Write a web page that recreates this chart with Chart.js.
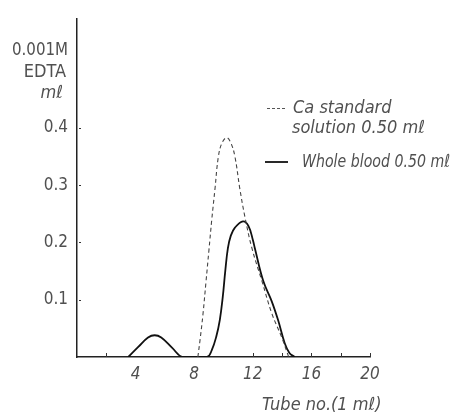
<!DOCTYPE html>
<html>
<head>
<meta charset="utf-8">
<script src="https://cdn.jsdelivr.net/npm/chart.js@4.4.1/dist/chart.umd.min.js"></script>
<style>
  html, body { margin: 0; padding: 0; background: #fff; }
  #wrap { width: 455px; height: 418px; }
</style>
</head>
<body>
<div id="wrap"><canvas id="c" width="455" height="418"></canvas></div>
<script>
// ---- data ----
const caTube = [8.25, 8.40, 8.60, 8.80, 9.00, 9.20, 9.42, 9.65, 9.90, 10.22, 10.50, 10.78, 11.12, 11.46, 11.94, 12.62, 13.30, 13.98, 14.45];
const caEdta = [0, 0.030, 0.075, 0.130, 0.185, 0.240, 0.294, 0.350, 0.374, 0.383, 0.374, 0.350, 0.293, 0.245, 0.190, 0.133, 0.076, 0.034, 0];

const wbTube = [3.5, 4.2, 4.85, 5.3, 5.75, 6.5, 7.2, 8.88, 9.2, 9.5, 9.75, 9.95, 10.12, 10.3, 10.5, 10.78, 11.33, 11.7, 12.0, 12.14, 12.71, 13.28, 13.73, 14.18, 14.5, 14.86];
const wbEdta = [0, 0.018, 0.034, 0.038, 0.034, 0.016, 0, 0, 0.012, 0.035, 0.065, 0.105, 0.150, 0.190, 0.212, 0.226, 0.237, 0.229, 0.205, 0.190, 0.133, 0.098, 0.064, 0.024, 0.007, 0];

const yTickValues = [0.1, 0.2, 0.3, 0.4];
const yTickLabels = ['0.1', '0.2', '0.3', '0.4'];
const xTickValues = [4, 8, 12, 16, 20];
const xTickLabels = ['4', '8', '12', '16', '20'];
const xMinorMarks = [2, 12, 14, 16, 18, 20];

const yTitleLines = ['0.001M', 'EDTA', 'mℓ'];
const xTitle = 'Tube no.(1 mℓ)';
const legendCa = ['Ca standard', 'solution 0.50 mℓ'];
const legendWb = 'Whole blood 0.50 mℓ';

const FONT = "'Liberation Sans Narrow', 'DejaVu Sans Condensed', 'Roboto Condensed', sans-serif";
const TEXT = '#505050';

function pts(xs, ys) { return xs.map((x, i) => ({ x: x, y: ys[i] })); }

// draw text, squeezed horizontally if it is wider than the original's lettering
function fitText(ctx, text, x, y, font, width, align) {
  ctx.save();
  ctx.font = font;
  ctx.textBaseline = 'middle';
  ctx.textAlign = 'left';
  const w = ctx.measureText(text).width;
  const sx = Math.min(1, width / w);
  const real = w * sx;
  const left = align === 'right' ? x - real : x;
  ctx.translate(left, y);
  ctx.scale(sx, 1);
  ctx.fillText(text, 0, 0);
  ctx.restore();
}

const deco = {
  id: 'deco',
  afterDraw(chart) {
    const ctx = chart.ctx;
    const xs = chart.scales.x, ys = chart.scales.y;
    const a = chart.chartArea;
    ctx.save();
    // inner tick marks
    ctx.strokeStyle = '#333';
    ctx.lineWidth = 1;
    yTickValues.forEach(v => {
      const py = Math.round(ys.getPixelForValue(v)) + 0.5;
      ctx.beginPath(); ctx.moveTo(a.left + 2, py); ctx.lineTo(a.left + 4, py); ctx.stroke();
    });
    xMinorMarks.forEach(v => {
      const px = Math.round(xs.getPixelForValue(v)) + 0.5;
      ctx.beginPath(); ctx.moveTo(px, a.bottom); ctx.lineTo(px, a.bottom - 4); ctx.stroke();
    });
    ctx.fillStyle = TEXT;
    const up = '18px ' + FONT, it = 'italic 18px ' + FONT;
    // y title
    fitText(ctx, yTitleLines[0], 68, 50, up, 56, 'right');
    fitText(ctx, yTitleLines[1], 66, 72, up, 43, 'right');
    fitText(ctx, yTitleLines[2], 63, 93, it, 27, 'right');
    // x title
    fitText(ctx, xTitle, 262, 405, it, 135, 'left');
    // legend
    ctx.strokeStyle = '#555';
    ctx.lineWidth = 1;
    ctx.setLineDash([3, 2]);
    ctx.beginPath(); ctx.moveTo(267, 108.5); ctx.lineTo(285, 108.5); ctx.stroke();
    ctx.setLineDash([]);
    ctx.strokeStyle = '#111';
    ctx.lineWidth = 1.8;
    ctx.beginPath(); ctx.moveTo(265, 162); ctx.lineTo(288, 162); ctx.stroke();
    ctx.fillStyle = TEXT;
    fitText(ctx, legendCa[0], 293, 108, it, 105, 'left');
    fitText(ctx, legendCa[1], 292, 128, it, 141, 'left');
    fitText(ctx, legendWb, 302, 162, it, 148, 'left');
    ctx.restore();
  }
};

new Chart(document.getElementById('c'), {
  type: 'scatter',
  data: {
    datasets: [
      {
        label: 'Ca standard solution 0.50 mℓ',
        data: pts(caTube, caEdta),
        showLine: true,
        borderColor: '#444',
        borderWidth: 1.1,
        borderDash: [4, 3],
        pointRadius: 0,
        tension: 0.4,
        fill: false
      },
      {
        label: 'Whole blood 0.50 mℓ',
        data: pts(wbTube, wbEdta),
        showLine: true,
        borderColor: '#111',
        borderWidth: 1.8,
        pointRadius: 0,
        tension: 0.4,
        fill: false
      }
    ]
  },
  options: {
    responsive: false,
    animation: false,
    devicePixelRatio: 1,
    layout: { padding: { top: 15, right: 85, left: 0, bottom: 0 } },
    plugins: { legend: { display: false }, tooltip: { enabled: false } },
    scales: {
      x: {
        type: 'linear',
        min: 0,
        max: 20,
        grid: { display: false, drawTicks: false },
        border: { display: true, color: '#222', width: 1.5 },
        afterBuildTicks(s) { s.ticks = xTickValues.map(v => ({ value: v })); },
        afterFit(s) { s.height = 61; },
        ticks: {
          color: TEXT,
          padding: 7,
          font: { family: FONT, size: 17, style: 'italic' },
          maxRotation: 0,
          callback: (v) => xTickLabels[xTickValues.indexOf(v)]
        }
      },
      y: {
        type: 'linear',
        min: 0,
        max: 0.59,
        grid: { display: false, drawTicks: false },
        border: { display: true, color: '#222', width: 1.5 },
        afterBuildTicks(s) { s.ticks = yTickValues.map(v => ({ value: v })); },
        afterFit(s) { s.width = 77; },
        ticks: {
          color: TEXT,
          padding: 9,
          font: { family: FONT, size: 17 },
          callback: (v) => yTickLabels[yTickValues.indexOf(v)]
        }
      }
    }
  },
  plugins: [deco]
});
</script>
</body>
</html>
